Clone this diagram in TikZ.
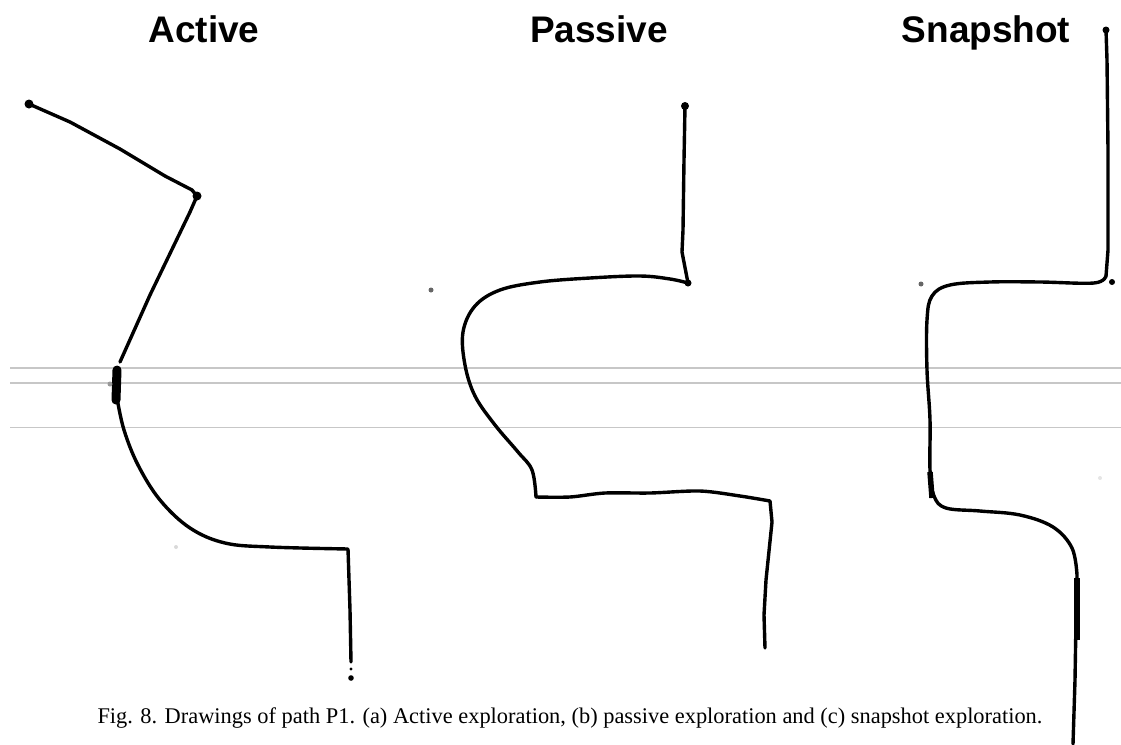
\documentclass[tikz,border=0pt]{standalone}
\usepackage{fontspec}
\setmainfont{Liberation Serif}
\newfontfamily\titlefont{Liberation Sans}
\usepackage{tikz}

\begin{document}
\begin{tikzpicture}[x=1pt, y=-1pt,
  pen/.style={line width=3.4pt, line cap=round, line join=round},
  guide/.style={line width=1.4pt, black!22},
  title/.style={font=\titlefont\bfseries\fontsize{37}{40}\selectfont, inner sep=0pt, anchor=base}]
\newcommand{\Pagew}{1121}; % picture width
\newcommand{\Pageh}{744}; % picture height
\useasboundingbox (0,0) rectangle (\Pagew,\Pageh);

% guide lines
\coordinate (G1L) at (10,368);
\coordinate (G1R) at (\Pagew,368);
\coordinate (G2L) at (10,383);
\coordinate (G2R) at (\Pagew,383);
\coordinate (G3L) at (10,427);
\coordinate (G3R) at (\Pagew,427);
\draw[guide] (G1L) -- (G1R);
\draw[guide] (G2L) -- (G2R);
\draw[guide, line width=1pt] (G3L) -- (G3R);

% titles
\node[title] (tActive)  at (204,42) {Active};
\node[title] (tPassive) at (599,42) {Passive};
\node[title] (tSnap)    at (986,42) {Snapshot};

% active
\coordinate (AS) at (29,104); % start
\coordinate (AK) at (197,196); % knee
\coordinate (AM) at (117,384); % middle
\coordinate (AC) at (348,549); % corner
\coordinate (AE) at (351,678); % end
\draw[pen] (AS) -- (70,122) -- (120,149) -- (165,176) -- (192,190) -- (AK) -- (190,212) -- (150,295) -- (120,362);
\draw[line width=9pt, line cap=round] (117,370) -- (116,400);
\draw[pen] plot[smooth, tension=0.6] coordinates {(117,398) (124,430) (138,465) (160,500) (190,528) (225,543) (270,547) (AC)} -- (350,610) -- (351,662);
\fill (AS) circle (4.5);
\fill (AK) circle (4.5);
\fill (AE) circle (2.8);
\fill (351,669) circle (1.6);
\fill[black!40] (110,384) circle (2.5);
\fill[black!15] (176,547) circle (2);

% passive
\coordinate (PS) at (685,106); % start
\coordinate (PK) at (688,283); % knee
\coordinate (PC) at (770,501); % corner
\coordinate (PE) at (765,648); % end
\draw[pen] (PS) -- (684,160) -- (683,230) -- (682,252) -- (PK);
\draw[pen] plot[smooth, tension=0.6] coordinates {(PK) (670,279) (640,276) (590,278) (540,282) (500,290) (475,306) (463,332) (465,365) (475,396) (495,425) (518,452) (532,470) (536,497)};
\draw[pen] plot[smooth, tension=0.5] coordinates {(536,497) (570,497) (605,493) (650,493) (700,491) (740,496) (PC)} -- (772,522) -- (766,580) -- (764,615) -- (PE);
\fill (PS) circle (4);
\fill (PK) circle (3.5);
\fill[black!60] (431,290) circle (2.5);

% snapshot
\coordinate (SS) at (1106,30); % start
\coordinate (SK) at (1106,276); % knee
\coordinate (SE) at (1073,744); % end
\draw[pen] (SS) -- (1107,60) -- (1108,150) -- (1108,250) -- (SK);
\draw[pen] plot[smooth, tension=0.6] coordinates {(SK) (1094,283) (1040,282) (990,282) (950,285) (932,296) (927,320) (927,370) (930,420) (930,470) (934,496) (946,508) (980,511) (1020,515) (1053,527) (1072,548) (1077,575)} -- (1076,620) -- (1075,680) -- (SE);
\draw[line width=5.5pt] (1077,578) -- (1077,640);
\draw[line width=5.5pt] (930,472) -- (932,498);
\fill (SS) circle (3.5);
\fill (1112,282) circle (3);
\fill[black!60] (921,284) circle (2.5);
\fill[black!10] (1100,478) circle (2);

% caption
\node[font=\fontsize{22.4}{26}\selectfont, inner sep=0pt] (caption) at (570,718)
  {Fig. 8. Drawings of path P1. (a) Active exploration, (b) passive exploration and (c) snapshot exploration.};
\end{tikzpicture}
\end{document}
